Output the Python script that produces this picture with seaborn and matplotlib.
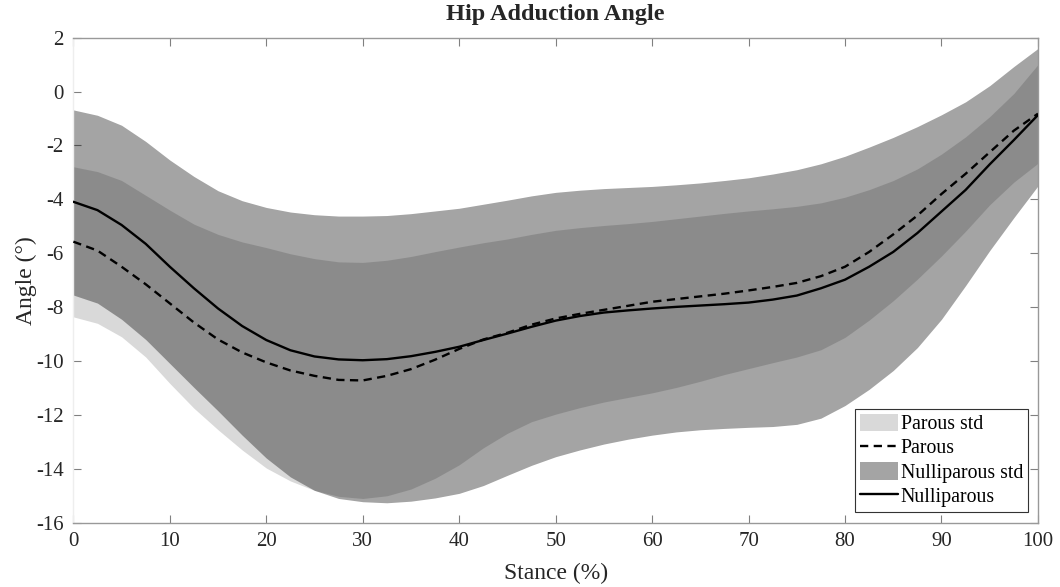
import numpy as np
import pandas as pd
import matplotlib
matplotlib.use("Agg")
import matplotlib.pyplot as plt
import seaborn as sns
from matplotlib.patches import Patch
from matplotlib.lines import Line2D

stance = [0, 2.5, 5, 7.5, 10, 12.5, 15, 17.5, 20, 22.5, 25, 27.5, 30, 32.5, 35, 37.5,
          40, 42.5, 45, 47.5, 50, 52.5, 55, 57.5, 60, 62.5, 65, 67.5, 70, 72.5, 75, 77.5,
          80, 82.5, 85, 87.5, 90, 92.5, 95, 97.5, 100]

nulli_mean = [-4.09, -4.4, -4.95, -5.65, -6.5, -7.3, -8.05, -8.7, -9.22, -9.6, -9.83, -9.94,
              -9.97, -9.93, -9.82, -9.66, -9.47, -9.22, -8.98, -8.73, -8.5, -8.33, -8.2, -8.12,
              -8.05, -7.99, -7.94, -7.89, -7.83, -7.72, -7.57, -7.3, -6.98, -6.5, -5.95, -5.25,
              -4.45, -3.65, -2.7, -1.8, -0.87]

parous_mean = [-5.57, -5.9, -6.5, -7.15, -7.86, -8.57, -9.2, -9.68, -10.05, -10.35, -10.55,
               -10.7, -10.72, -10.55, -10.3, -9.95, -9.55, -9.2, -8.95, -8.65, -8.42, -8.25,
               -8.1, -7.95, -7.8, -7.7, -7.6, -7.5, -7.38, -7.25, -7.1, -6.85, -6.5, -5.95,
               -5.3, -4.6, -3.8, -3.05, -2.25, -1.45, -0.82]

nulli_upper = [-0.68, -0.88, -1.25, -1.85, -2.54, -3.15, -3.68, -4.05, -4.3, -4.47, -4.57, -4.62,
               -4.62, -4.6, -4.53, -4.43, -4.33, -4.18, -4.03, -3.87, -3.74, -3.66, -3.6, -3.56,
               -3.52, -3.46, -3.39, -3.3, -3.2, -3.06, -2.9, -2.68, -2.4, -2.06, -1.7, -1.3,
               -0.86, -0.38, 0.22, 0.93, 1.6]

nulli_lower = [-7.55, -7.85, -8.45, -9.2, -10.09, -10.98, -11.85, -12.75, -13.6, -14.3, -14.8,
               -15.1, -15.22, -15.26, -15.2, -15.08, -14.91, -14.62, -14.24, -13.87, -13.55,
               -13.3, -13.08, -12.9, -12.75, -12.63, -12.55, -12.5, -12.46, -12.43, -12.35,
               -12.12, -11.65, -11.05, -10.35, -9.5, -8.45, -7.2, -5.9, -4.68, -3.5]

parous_upper = [-2.79, -2.97, -3.3, -3.85, -4.4, -4.92, -5.3, -5.58, -5.79, -6.02, -6.2,
                -6.32, -6.34, -6.26, -6.12, -5.94, -5.77, -5.61, -5.47, -5.3, -5.15, -5.05,
                -4.97, -4.9, -4.82, -4.72, -4.62, -4.52, -4.43, -4.35, -4.26, -4.13, -3.92,
                -3.64, -3.3, -2.87, -2.32, -1.68, -0.93, -0.07, 1.0]

parous_lower = [-8.36, -8.6, -9.1, -9.85, -10.83, -11.75, -12.55, -13.3, -13.97, -14.45, -14.8,
                -15.02, -15.1, -15.0, -14.75, -14.35, -13.85, -13.22, -12.68, -12.25, -11.97,
                -11.73, -11.52, -11.35, -11.18, -10.98, -10.75, -10.5, -10.28, -10.06, -9.85,
                -9.58, -9.12, -8.48, -7.76, -6.96, -6.1, -5.18, -4.2, -3.36, -2.66]

x_ticks = list(range(0, 101, 10))
y_ticks = list(range(-16, 3, 2))

sns.set_theme(style="white")
plt.rcParams["font.family"] = ["Liberation Serif", "DejaVu Serif"]
plt.rcParams["axes.unicode_minus"] = False

df = pd.DataFrame({
    "Stance": stance * 2,
    "Angle": parous_mean + nulli_mean,
    "Group": ["Parous"] * len(stance) + ["Nulliparous"] * len(stance),
})

fig = plt.figure(figsize=(10.6, 5.87), dpi=100)
ax = fig.add_axes([0.0692, 0.1095, 0.9100, 0.8263])

ax.fill_between(stance, parous_lower, parous_upper, color="#d9d9d9", linewidth=0, zorder=1)
ax.fill_between(stance, nulli_lower, nulli_upper, color="black", alpha=0.355, linewidth=0, zorder=2)

sns.lineplot(data=df, x="Stance", y="Angle", hue="Group", style="Group",
             palette={"Parous": "black", "Nulliparous": "black"},
             dashes={"Parous": (3.5, 2.3), "Nulliparous": ""},
             linewidth=1.7, ax=ax, legend=False, zorder=3)

ax.set_xlim(0, 100)
ax.set_ylim(-16, 2)
ax.set_xticks(x_ticks)
ax.set_yticks(y_ticks)
ax.tick_params(direction="in", length=6, width=0.8, colors="#808080",
               labelcolor="#262626", labelsize=15, top=True, right=True,
               bottom=True, left=True, pad=7)
for side in ["top", "bottom", "right"]:
    ax.spines[side].set_color("#999999")
    ax.spines[side].set_linewidth(1.0)
ax.spines["left"].set_color("#eeeeee")
ax.spines["left"].set_linewidth(1.0)

ax.set_title("Hip Adduction Angle", fontsize=17.5, fontweight="bold", pad=13)
ax.set_xlabel("Stance (%)", fontsize=17, color="#262626", labelpad=8)
ax.set_ylabel("Angle (°)", fontsize=17, color="#262626", labelpad=-1)

handles = [
    Patch(facecolor="#d9d9d9", edgecolor="none", label="Parous std"),
    Line2D([0], [0], color="black", linestyle=(0, (3.5, 2.3)), linewidth=1.7, label="Parous"),
    Patch(facecolor="black", alpha=0.355, edgecolor="none", label="Nulliparous std"),
    Line2D([0], [0], color="black", linewidth=1.7, label="Nulliparous"),
]
leg = ax.legend(handles=handles, loc="lower right", bbox_to_anchor=(0.9896, 0.023),
                fontsize=14.3, frameon=True, fancybox=False, handlelength=1.9,
                handleheight=1.0, handletextpad=0.12, borderpad=0.25, labelspacing=0.17,
                borderaxespad=0)
leg.get_frame().set_edgecolor("#333333")
leg.get_frame().set_linewidth(0.8)
leg.get_frame().set_facecolor("white")
leg.get_frame().set_alpha(1)
for t in leg.get_texts():
    t.set_color("black")

fig.savefig("out.png", dpi=100)
